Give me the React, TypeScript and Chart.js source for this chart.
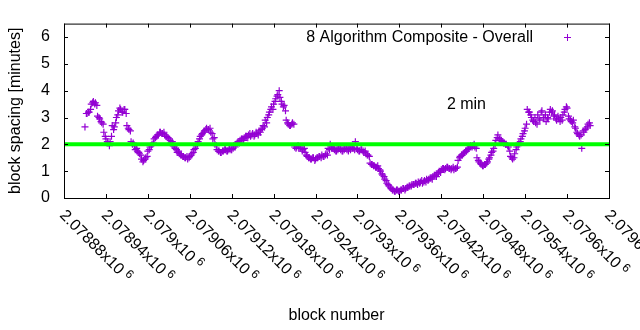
import React, { useEffect, useRef } from "react";
import { Chart, registerables } from "chart.js";

Chart.register(...registerables);

// ---- data ----
const seriesLabel = "8 Algorithm Composite - Overall";
const refLabel = "2 min";
const blockStep = 3;
const blockStartA = 2078910;
const spacingMinutesA = [
  2.65, 3.15, 3.2, 3.5, 3.6, 3.55, 3.05, 2.95, 2.8, 2.45,
  2.2, 2.05, 2.1, 2.7, 2.65, 3.0, 3.25, 3.3, 3.2, 3.3,
  2.7, 2.55, 2.1, 2.05, 1.8, 1.75, 1.65, 1.45, 1.4, 1.5,
  1.75, 1.9, 2.0, 2.2, 2.3, 2.35, 2.45, 2.4, 2.35, 2.3,
  2.2, 2.05, 1.95, 1.85, 1.7, 1.65, 1.6, 1.55, 1.5, 1.45,
  1.55, 1.65, 1.8, 1.95, 2.1, 2.3, 2.4, 2.5, 2.6, 2.55,
  2.45, 2.2, 2.0, 1.8, 1.75, 1.7, 1.75, 1.8, 1.75, 1.85,
  1.8, 1.95, 2.0, 2.1, 2.15, 2.2, 2.25, 2.3, 2.35, 2.3,
  2.4, 2.35, 2.4, 2.5, 2.55, 2.7, 2.9, 3.0, 3.2, 3.4,
  3.5, 3.7, 3.85, 3.75, 3.5, 3.45, 2.9, 2.75, 2.7, 2.8,
  1.9, 1.9, 1.85, 1.85, 1.8, 1.7, 1.55, 1.5, 1.45, 1.5,
  1.45, 1.5, 1.55, 1.6, 1.55, 1.65, 1.85, 2.0, 1.85, 1.8,
  1.75, 1.85, 1.8, 1.75, 1.85, 1.8, 1.85, 1.9, 1.85, 2.1,
  1.8, 1.75, 1.8, 1.7, 1.65, 1.6, 1.3, 1.25, 1.2, 1.15,
  1.1, 1.0, 0.85, 0.7, 0.55, 0.45, 0.35, 0.3, 0.25, 0.3,
  0.25, 0.3, 0.35, 0.35, 0.4, 0.45, 0.5, 0.5, 0.55, 0.6,
  0.6, 0.55, 0.65, 0.7, 0.7, 0.75, 0.8, 0.85, 0.9, 1.0,
  1.05, 1.1, 1.1, 1.15, 1.1, 1.1, 1.05, 1.1, 1.4, 1.55,
  1.6, 1.7, 1.75, 1.85, 1.95, 1.95, 1.9, 1.5, 1.35, 1.25,
  1.2, 1.25, 1.35, 1.5, 1.7, 1.85, 2.15, 2.35, 2.2, 2.1,
  2.05, 2.0, 1.9, 1.55, 1.45, 1.65, 1.9, 2.05, 2.2, 2.4,
  2.6, 3.3, 3.2, 3.0, 2.85, 2.8, 3.1, 2.9, 3.25, 3.0,
  2.85, 2.95, 3.3, 3.25, 3.1, 2.9, 2.95, 3.0, 3.1, 3.3,
  3.35, 2.95, 2.85, 2.9, 2.6, 2.4, 2.3, 1.85, 2.45, 2.6,
  2.75, 2.7,
];
const blockStartB = 2078912;
const spacingMinutesB = [
  3.15, 3.2, 3.3, 3.55, 3.5, 3.45, 3.0, 2.85, 2.75, 2.3,
  2.1, 1.95, 2.3, 2.55, 2.8, 3.1, 3.35, 3.2, 3.3, 3.15,
  2.6, 2.5, 2.0, 1.95, 1.85, 1.7, 1.6, 1.35, 1.45, 1.55,
  1.8, 1.95, 2.05, 2.25, 2.35, 2.45, 2.4, 2.45, 2.3, 2.25,
  2.15, 2.1, 1.9, 1.8, 1.75, 1.6, 1.55, 1.5, 1.55, 1.5,
  1.6, 1.7, 1.85, 2.0, 2.2, 2.35, 2.45, 2.55, 2.55, 2.6,
  2.4, 2.25, 1.95, 1.75, 1.7, 1.75, 1.8, 1.75, 1.8, 1.8,
  1.85, 1.9, 2.05, 2.05, 2.2, 2.15, 2.3, 2.25, 2.4, 2.35,
  2.3, 2.45, 2.35, 2.45, 2.6, 2.65, 2.8, 3.1, 3.3, 3.3,
  3.6, 3.8, 4.0, 3.6, 3.4, 3.25, 2.8, 2.7, 2.75, 2.75,
  1.85, 1.95, 1.9, 1.75, 1.85, 1.6, 1.5, 1.45, 1.5, 1.4,
  1.5, 1.55, 1.5, 1.55, 1.6, 1.6, 1.8, 1.85, 1.9, 1.75,
  1.8, 1.9, 1.75, 1.8, 1.9, 1.75, 1.8, 1.85, 1.8, 1.85,
  1.75, 1.8, 1.75, 1.75, 1.6, 1.55, 1.25, 1.2, 1.15, 1.2,
  1.05, 0.9, 0.8, 0.65, 0.5, 0.4, 0.3, 0.25, 0.3, 0.25,
  0.3, 0.35, 0.3, 0.4, 0.45, 0.45, 0.5, 0.55, 0.5, 0.55,
  0.65, 0.6, 0.6, 0.65, 0.75, 0.7, 0.85, 0.8, 0.95, 0.95,
  1.1, 1.05, 1.15, 1.1, 1.05, 1.15, 1.1, 1.15, 1.5, 1.6,
  1.65, 1.75, 1.8, 1.9, 1.9, 2.0, 1.85, 1.4, 1.3, 1.2,
  1.25, 1.3, 1.45, 1.6, 1.75, 2.0, 2.25, 2.2, 2.15, 2.05,
  2.0, 1.95, 1.75, 1.5, 1.5, 1.8, 1.95, 2.1, 2.3, 2.5,
  2.75, 3.2, 3.1, 2.9, 3.0, 2.75, 2.95, 3.2, 3.0, 3.1,
  3.0, 3.2, 3.2, 3.05, 2.95, 3.05, 2.85, 2.9, 3.2, 3.4,
  3.05, 2.9, 2.8, 2.65, 2.45, 2.35, 2.35, 2.5, 2.55, 2.65,
  2.8,
];
const targetMinutes = 2;
const xMin = 2078880;
const xMax = 2079660;
const xStep = 60;
const yMin = 0;
const yMax = 6.5;
const yTickValues = [0, 1, 2, 3, 4, 5, 6];
const refLabelAt = { x: 2079428, y: 3.3 };

const FONT = '"Liberation Sans", Arial, sans-serif';
const PURPLE = "#9400D3";
const GREEN = "#00FF00";

function formatBlock(v: number): string {
  return String(parseFloat((v / 1e6).toPrecision(6)));
}

const gnuplotPlugin = {
  id: "gnuplotDecor",
  afterDatasetsDraw(chart: any) {
    const { ctx, chartArea: a, scales } = chart;
    const xs = scales.x;
    const ys = scales.y;
    ctx.save();
    ctx.strokeStyle = "#000";
    ctx.lineWidth = 1;
    ctx.strokeRect(a.left + 0.5, a.top + 0.5, a.right - a.left, a.bottom - a.top);
    const tl = 4;
    ctx.beginPath();
    xs.ticks.forEach((t: any) => {
      const px = Math.round(xs.getPixelForValue(t.value)) + 0.5;
      ctx.moveTo(px, a.bottom);
      ctx.lineTo(px, a.bottom - tl);
      ctx.moveTo(px, a.top);
      ctx.lineTo(px, a.top + tl);
    });
    yTickValues.forEach((v) => {
      const py = Math.round(ys.getPixelForValue(v)) + 0.5;
      ctx.moveTo(a.left, py);
      ctx.lineTo(a.left + tl, py);
      ctx.moveTo(a.right, py);
      ctx.lineTo(a.right - tl, py);
    });
    ctx.stroke();
    ctx.restore();
  },
  afterDraw(chart: any) {
    const { ctx, chartArea: a, scales } = chart;
    const xs = scales.x;
    const ys = scales.y;
    ctx.save();
    ctx.fillStyle = "#000";
    // rotated x tick labels
    xs.ticks.forEach((t: any) => {
      const px = xs.getPixelForValue(t.value);
      ctx.save();
      ctx.translate(px - 2, a.bottom + 15);
      ctx.rotate(Math.PI / 4);
      ctx.textAlign = "left";
      ctx.textBaseline = "middle";
      ctx.font = `16px ${FONT}`;
      const main = formatBlock(t.value) + "x10";
      ctx.fillText(main, 0, 0);
      const w = ctx.measureText(main).width;
      ctx.font = `12px ${FONT}`;
      ctx.fillText("6", w + 4, -4);
      ctx.restore();
    });
    // legend
    ctx.font = `16px ${FONT}`;
    ctx.textAlign = "right";
    ctx.textBaseline = "alphabetic";
    ctx.fillText(seriesLabel, a.right - 76, a.top + 18.5);
    ctx.strokeStyle = PURPLE;
    ctx.lineWidth = 1;
    const mx = Math.round(a.right - 42) + 0.5;
    const my = Math.round(a.top + 13) + 0.5;
    ctx.beginPath();
    ctx.moveTo(mx - 3.5, my);
    ctx.lineTo(mx + 3.5, my);
    ctx.moveTo(mx, my - 3.5);
    ctx.lineTo(mx, my + 3.5);
    ctx.stroke();
    // "2 min" label
    ctx.fillStyle = "#000";
    ctx.textAlign = "left";
    ctx.fillText(refLabel, xs.getPixelForValue(refLabelAt.x), ys.getPixelForValue(refLabelAt.y));
    ctx.restore();
  },
};

export default function App() {
  const ref = useRef<HTMLCanvasElement | null>(null);
  useEffect(() => {
    if (!ref.current) return;
    const points = [
      ...spacingMinutesA.map((v, i) => ({ x: blockStartA + i * blockStep, y: v })),
      ...spacingMinutesB.map((v, i) => ({ x: blockStartB + i * blockStep, y: v })),
    ];
    const chart = new Chart(ref.current, {
      type: "scatter",
      data: {
        datasets: [
          {
            label: seriesLabel,
            data: points,
            pointStyle: "cross",
            pointRadius: 3.5,
            pointBorderWidth: 1.2,
            borderColor: PURPLE,
            backgroundColor: PURPLE,
            showLine: false,
            order: 2,
          } as any,
          {
            label: refLabel,
            data: [
              { x: xMin, y: targetMinutes },
              { x: xMax, y: targetMinutes },
            ],
            showLine: true,
            borderColor: GREEN,
            borderWidth: 4,
            pointRadius: 0,
            order: 1,
          } as any,
        ],
      },
      options: {
        animation: false,
        responsive: false,
        devicePixelRatio: 1,
        layout: { padding: { top: 19, right: 31, left: 0, bottom: 0 } },
        plugins: { legend: { display: false }, tooltip: { enabled: false } },
        scales: {
          x: {
            type: "linear",
            min: xMin,
            max: xMax,
            grid: { display: false, drawTicks: false },
            border: { display: false },
            ticks: { display: false, stepSize: xStep, includeBounds: false },
            title: {
              display: true,
              text: "block number",
              color: "#000",
              font: { family: FONT, size: 16 },
              padding: { top: 0, bottom: 5 },
            },
            afterFit: (s: any) => {
              s.height = 132;
            },
          },
          y: {
            min: yMin,
            max: yMax,
            grid: { display: false, drawTicks: false },
            border: { display: false },
            ticks: {
              stepSize: 1,
              includeBounds: false,
              color: "#000",
              padding: 14,
              font: { family: FONT, size: 16 },
              callback: (v: any) => (Number.isInteger(v) ? String(v) : ""),
            },
            title: {
              display: true,
              text: "block spacing [minutes]",
              color: "#000",
              font: { family: FONT, size: 16 },
              padding: { top: 6, bottom: 0 },
            },
            afterFit: (s: any) => {
              s.width = 64;
            },
          },
        },
      },
      plugins: [gnuplotPlugin],
    });
    return () => chart.destroy();
  }, []);
  return (
    <div style={{ position: "fixed", left: 0, top: 0, width: 640, height: 330, background: "#fff" }}>
      <canvas ref={ref} width={640} height={330} />
    </div>
  );
}
